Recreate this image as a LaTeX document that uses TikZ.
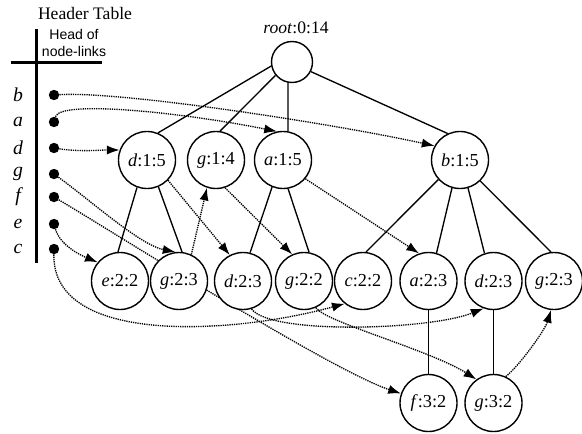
\documentclass[tikz,border=0pt]{standalone}
\usepackage{fontspec}
\setmainfont{Liberation Serif}
\newfontfamily\headsans{Liberation Sans}
\usetikzlibrary{arrows.meta}

% node-links go underneath the tree nodes
\pgfdeclarelayer{links}
\pgfsetlayers{links,main}

% item:level:count label
\newcommand{\nlab}[2]{\textit{#1}:#2}

\begin{document}
\begin{tikzpicture}[
  x=0.025cm, y=-0.025cm,
  >={Latex[length=9pt,width=6.5pt]},
  every node/.style={font=\fontsize{13}{15}\selectfont},
  tnode/.style={draw, circle, fill=white, line width=1pt,
                minimum size=1.425cm, inner sep=0pt},
  rootnode/.style={tnode, minimum size=1.025cm},
  hdot/.style={circle, fill=black, minimum size=0.26cm, inner sep=0pt},
  itemlbl/.style={font=\fontsize{14}{15}\selectfont\itshape},
  treeedge/.style={line width=0.95pt},
  nlink/.style={->, line width=0.95pt, dash pattern=on 0.9pt off 0.7pt}
]
\path[use as bounding box] (0,0) rectangle (582,433);

% ---- Rows ----
\def\yA{160}   % level 1
\def\yB{281}   % level 2
\def\yC{403}   % level 3

% ---- Header table ----
\node[font=\fontsize{12.5}{14}\selectfont] (httl) at (85,13) {Header Table};
\node[font=\headsans\fontsize{10}{12}\selectfont, align=center] (hhead) at (74,43)
    {Head of\\node-links};
\draw[line width=1.5pt] (36.5,29) -- (36.5,263);
\draw[line width=1.5pt] (11,62.5) -- (102,62.5);

\foreach \itm/\yy in {b/95, a/122, d/148, g/174, f/197, e/224, c/249}{
  \node[itemlbl] (l\itm) at (18,\yy) {\itm};
  \node[hdot] (h\itm) at (54,\yy) {};
}

% ---- Tree ----
\node[rootnode] (root) at (292,62) {};
\node[font=\fontsize{12.5}{14}\selectfont] (rootlbl) at (296,28) {\nlab{root}{0:14}};

\node[tnode] (d1) at (147,\yA) {\nlab{d}{1:5}};
\node[tnode] (g1) at (216,\yA) {\nlab{g}{1:4}};
\node[tnode] (a1) at (283,\yA) {\nlab{a}{1:5}};
\node[tnode] (b1) at (460,\yA) {\nlab{b}{1:5}};

\node[tnode] (e2)  at (120,\yB) {\nlab{e}{2:2}};
\node[tnode] (g2a) at (179,\yB) {\nlab{g}{2:3}};
\node[tnode] (d2a) at (243,\yB) {\nlab{d}{2:3}};
\node[tnode] (g2b) at (304,\yB) {\nlab{g}{2:2}};
\node[tnode] (c2)  at (363,\yB) {\nlab{c}{2:2}};
\node[tnode] (a2)  at (428.5,\yB) {\nlab{a}{2:3}};
\node[tnode] (d2b) at (493.5,\yB) {\nlab{d}{2:3}};
\node[tnode] (g2c) at (554,\yB) {\nlab{g}{2:3}};

\node[tnode] (f3) at (428.5,\yC) {\nlab{f}{3:2}};
\node[tnode] (g3) at (493.5,\yC) {\nlab{g}{3:2}};

% ---- Tree edges ----
\foreach \p/\c in {root.191/d1.68, root.219/g1.82, root.259/a1.80, root.333/b1.115,
                   d1.250/e2.94, d1.293/g2a.84, a1.248/d2a.76, a1.280/g2b.80,
                   b1.222/c2.84, b1.254/a2.74, b1.286/d2b.108, b1.314/g2c.96,
                   a2.270/f3.90, d2b.270/g3.90}{
  \draw[treeedge] (\p) -- (\c);
}

% ---- Node-links ----
\begin{pgfonlayer}{links}
  % from the header table
  \draw[nlink] (hb) .. controls (120,91) and (330,123) .. (b1.151);
  \draw[nlink] (ha) .. controls (60,100) and (180,112) .. (a1.102);
  \draw[nlink] (hd) .. controls (80,152) and (100,150) .. (d1.160);
  \draw[nlink] (hg) .. controls (90,200) and (140,245) .. (g2a.97);
  \draw[nlink] (hf) .. controls (110,230) and (330,370) .. (f3.161);
  \draw[nlink] (he) .. controls (60,245) and (80,255) .. (e2.140);
  \draw[nlink] (hc) .. controls (52,345) and (230,335) .. (c2.231);
  % between nodes of the same item
  \draw[nlink] (d1.316) -- (d2a.117);
  \draw[nlink] (g2a.65) -- (g1.252);
  \draw[nlink] (g1.288) -- (g2b.114);
  \draw[nlink] (a1.320) -- (a2.109);
  \draw[nlink] (d2a.287) .. controls (270,335) and (430,330) .. (d2b.250);
  \draw[nlink] (g2b.294) .. controls (325,322) and (430,350) .. (g3.126);
  \draw[nlink] (g3.65) .. controls (520,365) and (545,330) .. (g2c.264);
\end{pgfonlayer}

\end{tikzpicture}
\end{document}
